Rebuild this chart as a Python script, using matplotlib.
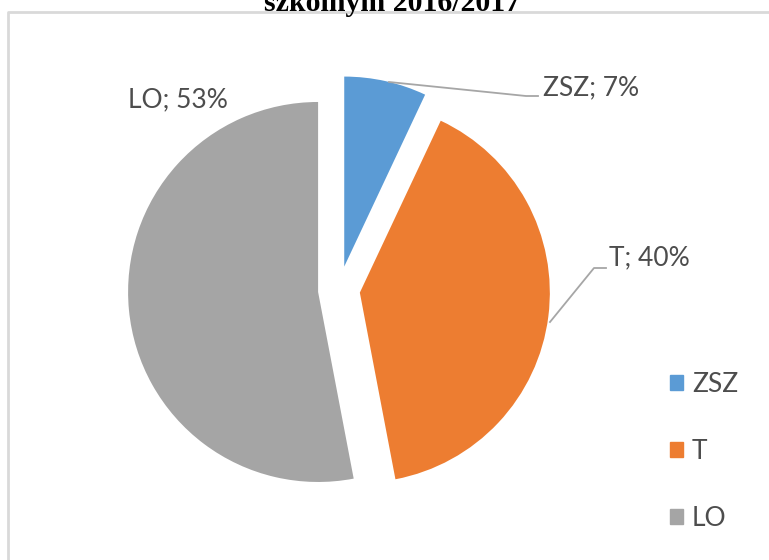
import matplotlib.pyplot as plt
from matplotlib.patches import Patch

# data
labels = ["ZSZ", "T", "LO"]
shares = [7, 40, 53]
colors = ["#5B9BD5", "#ED7D31", "#A5A5A5"]
explode = [24, 21, 21]  # pie offsets, in axes units (pixels here)
title = "szkolnym 2016/2017"

W, H = 769, 560
fig = plt.figure(figsize=(W / 100, H / 100), dpi=100)
ax = fig.add_axes([0, 0, 1, 1])

wedges, _ = ax.pie(shares, colors=colors, explode=explode, startangle=90,
                   counterclock=False, center=(339, H - 290), radius=190,
                   wedgeprops=dict(linewidth=0))
ax.set_xlim(0, W)
ax.set_ylim(0, H)
ax.set_aspect("equal")
ax.axis("off")

txt = "#4D4D4D"
line = "#A6A6A6"
font = "Lato"

# data labels with leader lines
ax.plot([389, 526, 538], [H - 82, H - 96, H - 96], color=line, lw=1.3)
ax.text(543, H - 88, f"{labels[0]}; {shares[0]}%", fontsize=19, color=txt,
        family=font, va="center", ha="left")
ax.plot([550, 594, 606], [H - 322, H - 268, H - 268], color=line, lw=1.3)
ax.text(609, H - 258, f"{labels[1]}; {shares[1]}%", fontsize=19, color=txt,
        family=font, va="center", ha="left")
ax.text(128, H - 100, f"{labels[2]}; {shares[2]}%", fontsize=19, color=txt,
        family=font, va="center", ha="left")

# chart border (top and left)
ax.plot([8, 8, W], [0, H - 12, H - 12], color="#D9D9D9", lw=2)

# title, cut off at top
ax.text(392, H - 11, title, fontsize=21.5, fontweight="bold",
        family="Liberation Serif", ha="center", va="baseline", color="black")

handles = [Patch(color=c) for c in colors]
leg = ax.legend(handles, labels, loc="upper left", bbox_to_anchor=(659 / W, 1 - 361 / H),
                frameon=False, prop=dict(family=font, size=19),
                handlelength=0.5, handleheight=0.5, handletextpad=0.35,
                labelspacing=1.6, borderaxespad=0)
for t in leg.get_texts():
    t.set_color(txt)

fig.savefig("out.png", dpi=100)
